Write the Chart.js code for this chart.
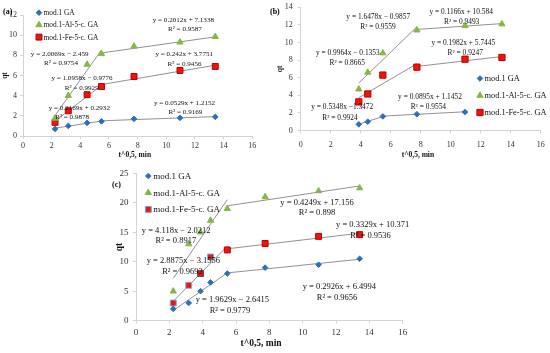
<!DOCTYPE html>
<html><head><meta charset="utf-8">
<script src="https://cdn.jsdelivr.net/npm/chart.js@4/dist/chart.umd.min.js"></script>
<style>
html,body{margin:0;padding:0;background:#fff;}
#wrap{position:relative;width:550px;height:353px;overflow:hidden;background:#fff;}
#wrap canvas{position:absolute;}
.pl{position:absolute;font:bold 8px "Liberation Serif",serif;color:#000;line-height:1;}
</style></head><body>
<div id="wrap">
<canvas id="ca" width="270" height="165" style="left:0;top:0"></canvas>
<canvas id="cb" width="275" height="165" style="left:275px;top:0"></canvas>
<canvas id="cc" width="320" height="188" style="left:100px;top:165px"></canvas>
<div class="pl" style="left:3px;top:8px">(a)</div>
<div class="pl" style="left:270px;top:8px">(b)</div>
<div class="pl" style="left:112px;top:181px">(c)</div>
</div>
<script>
// ---------------- DATA ----------------
const seriesNames = ['mod.1 GA', 'mod.1-Al-5-c. GA', 'mod.1-Fe-5-c. GA'];
const xTitle = 't^0,5, min';
const yTitle = 'qt';

// (a)
const xA = [2.236, 3.162, 4.472, 5.477, 7.746, 10.954, 13.416];
const gaA = [0.7, 1.0, 1.3, 1.45, 1.7, 1.8, 1.9];
const alA = [1.75, 4.0, 7.1, 8.15, 8.9, 9.3, 9.85];
const feA = [1.35, 2.5, 4.1, 4.9, 5.9, 6.5, 6.9];
// trend lines: [series, slope, intercept, xFrom, xTo]
const trendA = [
  [0, 0.2169, 0.2932, 2.236, 5.477], [0, 0.0529, 1.2152, 5.477, 13.416],
  [1, 2.0069, -2.459, 2.236, 5.477], [1, 0.2012, 7.1338, 5.477, 13.416],
  [2, 1.0958, -0.9776, 2.236, 5.477], [2, 0.242, 3.7751, 5.477, 13.416]
];
const textA = ['y = 0.2012x + 7.1338', 'R² = 0.9587', 'y = 2.0069x − 2.459', 'R² = 0.9754',
  'y = 0.242x + 3.7751', 'R² = 0.9456', 'y = 1.0958x − 0.9776', 'R² = 0.9929',
  'y = 0.2169x + 0.2932', 'R² = 0.9878', 'y = 0.0529x + 1.2152', 'R² = 0.9169'];

// (b)
const xBga = [3.873, 4.472, 5.477, 7.746, 10.954];
const xB = [3.873, 4.472, 5.477, 7.746, 10.954, 13.416];
const gaB = [0.7, 1.0, 1.6, 1.85, 2.1];
const alB = [4.7, 6.6, 8.8, 11.4, 11.9, 12.1];
const feB = [3.25, 4.15, 6.3, 7.2, 8.1, 8.3];
const trendB = [
  [0, 0.5348, -1.3472, 3.873, 5.477], [0, 0.0895, 1.1452, 5.477, 10.954],
  [1, 1.6478, -0.9857, 3.873, 7.746], [1, 0.1166, 10.584, 7.746, 13.416],
  [2, 0.9964, -0.1353, 3.873, 7.746], [2, 0.1982, 5.7445, 7.746, 13.416]
];
const textB = ['y = 1.6478x − 0.9857', 'R² = 0.9559', 'y = 0.1166x + 10.584', 'R² = 0.9493',
  'y = 0.9964x − 0.1353', 'R² = 0.8665', 'y = 0.1982x + 5.7445', 'R² = 0.9247',
  'y = 0.0895x + 1.1452', 'R² = 0.9554', 'y = 0.5348x −1.3472', 'R² = 0.9924'];

// (c)
const xC = [2.236, 3.162, 3.873, 4.472, 5.477, 7.746, 10.954, 13.416];
const gaC = [2.0, 3.0, 5.0, 6.5, 8.0, 9.0, 9.5, 10.5];
const alC = [5.0, 13.0, 15.0, 17.0, 19.0, 21.0, 22.0, 22.5];
const feC = [3.0, 6.0, 8.0, 10.8, 12.0, 13.1, 14.3, 14.6];
const trendC = [
  [0, 1.9629, -2.6415, 2.236, 5.477], [0, 0.2926, 6.4994, 5.477, 13.416],
  [1, 4.118, -2.0212, 2.236, 5.477], [1, 0.4249, 17.156, 5.477, 13.416],
  [2, 2.8875, -3.1556, 2.236, 5.477], [2, 0.3329, 10.371, 5.477, 13.416]
];
const textC = ['y = 0.4249x + 17.156', 'R² = 0.898', 'y = 4.118x − 2.0212', 'R² = 0.8917',
  'y = 0.3329x + 10.371', 'R² = 0.9536', 'y = 2.8875x − 3.1556', 'R² = 0.9692',
  'y = 0.2926x + 6.4994', 'R² = 0.9656', 'y = 1.9629x − 2.6415', 'R² = 0.9779'];

// ---------------- LAYOUT / STYLE ----------------
const FONT = '"Liberation Serif","Times New Roman",serif';
const COLORS = ['#2a6fbd', '#86b64a', '#f0140c'];
const BORDERS = ['#2a6fbd', '#86b64a', '#b80000'];
const STYLES = ['rectRot', 'triangle', 'rect'];

// label positions in data units (same order as texts)
const posA = [[11.19,11.5],[11.3,10.58],[2.56,8.13],[2.65,7.21],[11.25,8.1],[11.27,7.14],
  [4.12,5.72],[4.1,4.79],[3.93,2.75],[3.43,1.85],[11.27,3.3],[11.33,2.38]];
const posB = [[5.17,12.93],[5.15,11.8],[10.7,13.5],[10.73,12.36],[3.14,8.77],[3.1,7.64],
  [10.84,9.91],[10.97,8.77],[8.62,3.84],[8.51,2.64],[2.77,2.64],[2.62,1.39]];
const posC = [[10.86,20.03],[10.86,18.23],[2.41,15.23],[2.39,13.53],[14.2,16.25],[14.07,14.38],
  [2.84,10.19],[2.79,8.32],[12.2,5.77],[12.06,3.97],[5.78,3.51],[5.64,1.7]];

const overlay = {
  id: 'overlay',
  afterDatasetsDraw(chart, args, o) {
    const ctx = chart.ctx, xs = chart.scales.x, ys = chart.scales.y;
    ctx.save();
    ctx.fillStyle = '#111';
    ctx.textAlign = 'center';
    ctx.textBaseline = 'middle';
    ctx.font = o.labelFont + 'px ' + FONT;
    o.texts.forEach((t, i) => {
      ctx.fillText(t, xs.getPixelForValue(o.pos[i][0]), ys.getPixelForValue(o.pos[i][1]));
    });
    // legend
    const L = o.legend;
    ctx.font = L.font + 'px ' + FONT;
    ctx.textAlign = 'left';
    chart.data.datasets.filter(d => d.isSeries).forEach((d, i) => {
      const px = L.x, py = L.y + i * L.dy;
      ctx.fillStyle = d.backgroundColor;
      ctx.strokeStyle = L.borders ? L.borders[i] : d.borderColor;
      ctx.lineWidth = 1;
      Chart.helpers.drawPoint(ctx, {pointStyle: d.pointStyle, radius: d.pointRadius, rotation: 0, borderWidth: 1}, px, py);
      ctx.fillStyle = '#111';
      ctx.fillText(d.label, px + L.dx, py + 0.5);
    });
    ctx.restore();
  }
};

function build(id, p) {
  const ds = [];
  p.series.forEach((s, k) => {
    ds.push({
      label: seriesNames[k], isSeries: true,
      data: s.x.map((x, i) => ({x, y: s.y[i]})),
      pointStyle: STYLES[k], pointRadius: p.radius[k],
      backgroundColor: COLORS[k], borderColor: s.border || BORDERS[k], borderWidth: 1,
      showLine: false, order: 0
    });
  });
  p.trends.forEach(t => {
    const [, m, b, x0, x1] = t;
    ds.push({
      label: 'trend', isSeries: false,
      data: [{x: x0, y: m * x0 + b}, {x: x1, y: m * x1 + b}],
      showLine: true, pointRadius: 0, borderColor: '#858585', borderWidth: 0.9,
      order: 1
    });
  });
  const tickFont = {family: FONT, size: p.tick};
  const titleFont = {family: FONT, size: p.title, weight: 'bold'};
  new Chart(document.getElementById(id), {
    type: 'scatter',
    data: {datasets: ds},
    plugins: [overlay],
    options: {
      responsive: false, animation: false, devicePixelRatio: 1,
      layout: {padding: p.pad},
      plugins: {legend: {display: false}, tooltip: {enabled: false},
        overlay: {texts: p.texts, pos: p.pos, labelFont: p.labelFont, legend: p.legend}},
      scales: {
        x: {type: 'linear', min: 0, max: 16,
          ticks: {stepSize: 2, font: tickFont, color: '#333', padding: p.xPad, maxRotation: 0, autoSkip: false},
          grid: {drawOnChartArea: false, drawTicks: true, tickLength: 3, color: '#d4d4d4'},
          border: {color: '#d4d4d4', width: 1},
          title: {display: true, text: xTitle + p.titlePad, font: titleFont, color: '#111', padding: 0},
          afterFit(sc) { sc.height = p.xH; sc.paddingLeft = 0; sc.paddingRight = 0; }
        },
        y: {type: 'linear', min: 0, max: p.ymax,
          ticks: {stepSize: p.ystep, font: tickFont, color: '#333', padding: p.yPad},
          grid: {drawOnChartArea: false, drawTicks: true, tickLength: 3, color: '#d4d4d4'},
          border: {color: '#d4d4d4', width: 1},
          title: {display: true, text: yTitle, font: titleFont, color: '#111', padding: {top: 0.5, bottom: 0}},
          afterFit(sc) { sc.width = p.yW; sc.paddingTop = 0; sc.paddingBottom = 0; }
        }
      }
    }
  });
}

build('ca', {
  series: [{x: xA, y: gaA}, {x: xA, y: alA}, {x: xA, y: feA}],
  trends: trendA, texts: textA, pos: posA,
  radius: [2.8, 3.6, 4.2], tick: 8, title: 7.5, labelFont: 7.1, titlePad: '\u00a0\u00a0\u00a0',
  pad: {left: 0, top: 15, right: 17.7, bottom: 5}, yW: 23, xH: 24, xPad: 2.5, yPad: 3,
  ymax: 12, ystep: 2,
  legend: {x: 39, y: 12.7, dy: 12.2, dx: 4.5, font: 7.4}
});
build('cb', {
  series: [{x: xBga, y: gaB}, {x: xB, y: alB}, {x: xB, y: feB}],
  trends: trendB, texts: textB, pos: posB,
  radius: [2.8, 3.6, 4.4], tick: 8, title: 7.5, labelFont: 7.4, titlePad: '\u00a0\u00a0\u00a0',
  pad: {left: 0, top: 7.3, right: 9.3, bottom: 5.5}, yW: 25.7, xH: 29, xPad: 6.5, yPad: 5,
  ymax: 14, ystep: 2,
  legend: {x: 205, y: 78.5, dy: 17, dx: 4.5, font: 8.4}
});
build('cc', {
  series: [{x: xC, y: gaC}, {x: xC, y: alC},
    {x: xC, y: feC, border: ['#7fb0dc', '#7fb0dc', '#505050', '#5ab8e8', '#b80000', '#b80000', '#b80000', '#b80000']}],
  trends: trendC, texts: textC, pos: posC,
  radius: [2.8, 3.6, 4.2], tick: 9, title: 9.5, labelFont: 8.5, titlePad: '\u00a0\u00a0\u00a0\u00a0\u00a0\u00a0\u00a0',
  pad: {left: 13.5, top: 8.3, right: 17.3, bottom: 3.6}, yW: 22.5, xH: 28.7, xPad: 4, yPad: 4.5,
  ymax: 25, ystep: 5,
  legend: {x: 48.3, y: 11, dy: 16.7, dx: 5, font: 9, borders: ['#2a6fbd', '#86b64a', '#6fa8dc']}
});
</script>
</body></html>
